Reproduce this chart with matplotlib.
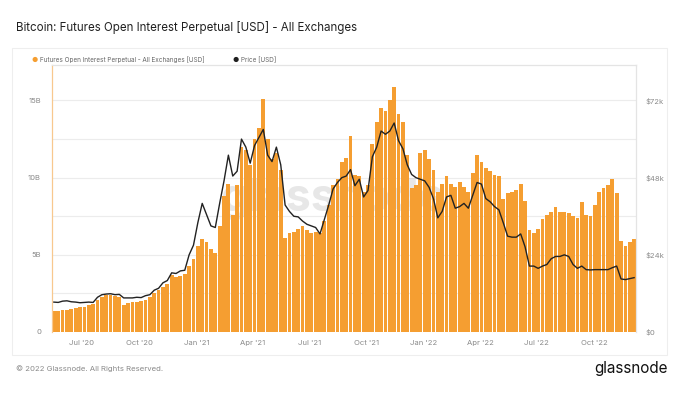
import matplotlib.pyplot as plt
import matplotlib.dates as mdates
import pandas as pd

plt.rcParams["font.family"] = ["Inter", "DejaVu Sans"]

ORANGE = "#F59E31"
GREY_TXT = "#8a8a8a"
GRID = "#ececec"

# weekly samples, 17 May 2020 .. 4 Dec 2022
dates = pd.date_range("2020-05-17", periods=134, freq="7D")

# Futures open interest, perpetual, all exchanges (billions USD)
oi_bn = [
    1.33, 1.36, 1.40, 1.44, 1.50, 1.55, 1.59, 1.65, 1.72, 1.83,
    2.10, 2.30, 2.38, 2.40, 2.35, 2.30, 1.76, 1.85, 1.92, 1.95,
    1.98, 2.05, 2.30, 2.55, 2.75, 2.90, 3.10, 3.70, 3.55, 3.60,
    3.75, 4.30, 4.70, 5.60, 6.00, 5.80, 5.40, 5.10, 6.90, 8.80,
    9.60, 7.60, 9.50, 12.0, 11.8, 10.8, 12.5, 13.2, 15.1, 12.5,
    11.2, 11.6, 10.5, 6.10, 6.40, 6.50, 6.70, 6.90, 6.60, 6.40,
    6.50, 6.40, 7.20, 8.20, 9.50, 9.90, 11.0, 11.3, 12.7, 10.2,
    10.1, 9.10, 9.50, 12.2, 13.6, 14.5, 14.3, 15.0, 15.9, 14.1,
    13.6, 11.5, 9.30, 9.50, 11.6, 11.8, 11.2, 10.5, 9.10, 9.60,
    10.1, 9.60, 9.40, 9.70, 9.40, 9.10, 10.3, 11.5, 11.0, 10.6,
    10.4, 10.2, 10.1, 8.60, 9.00, 9.10, 9.20, 9.60, 8.50, 6.60,
    6.40, 6.70, 7.30, 7.60, 7.80, 8.10, 7.80, 7.80, 7.70, 7.50,
    7.40, 8.40, 7.60, 7.50, 8.20, 9.10, 9.30, 9.50, 9.90, 9.00,
    5.90, 5.60, 5.80, 6.00,
]

# BTC price (thousands USD)
price_k = [
    9.3, 9.2, 9.6, 9.7, 9.4, 9.3, 9.1, 9.2, 9.3, 9.2,
    10.8, 11.6, 11.8, 11.9, 11.6, 11.7, 10.6, 10.6, 10.6, 10.8,
    10.7, 11.3, 11.6, 13.0, 13.6, 15.3, 16.0, 18.4, 18.2, 19.0,
    19.2, 24.0, 27.0, 34.0, 40.0, 36.5, 33.0, 32.5, 40.0, 47.0,
    55.0, 48.5, 50.0, 60.0, 57.5, 52.5, 58.0, 60.5, 63.0, 55.0,
    53.0, 57.5, 52.0, 39.5, 37.5, 36.0, 35.8, 34.5, 33.5, 33.0,
    32.5, 30.5, 35.0, 39.5, 44.5, 46.5, 48.0, 48.5, 50.5, 45.5,
    47.5, 42.0, 44.0, 54.5, 57.5, 62.5, 61.5, 62.5, 65.0, 59.5,
    57.0, 52.0, 49.0, 48.0, 47.5, 47.0, 45.0, 41.5, 35.5, 37.5,
    42.0, 42.5, 38.5, 39.0, 40.0, 38.5, 42.5, 46.5, 46.0, 41.5,
    40.5, 39.0, 38.0, 34.0, 29.8, 29.5, 29.5, 30.5, 26.5, 20.5,
    20.5, 19.8, 20.5, 21.0, 22.8, 23.5, 23.5, 24.0, 23.5, 21.0,
    19.8, 20.5, 19.4, 19.3, 19.4, 19.4, 19.4, 19.4, 20.0, 20.5,
    16.5, 16.3, 16.6, 16.9,
]

fig = plt.figure(figsize=(6.83, 3.96), dpi=100)
fig.patch.set_facecolor("white")

# card behind the chart
card = plt.Rectangle((12 / 683, 1 - 355 / 396), 655 / 683, 307 / 396,
                     transform=fig.transFigure, facecolor="white",
                     edgecolor="#eeeeee", linewidth=0.8, zorder=-5)
fig.patches.append(card)

ax = fig.add_axes([52 / 683, 1 - 332 / 396, 584 / 683, 267 / 396])
ax2 = ax.twinx()

ax.bar(dates, oi_bn, width=6.1, color=ORANGE, linewidth=0, align="center", zorder=2)
ax2.plot(dates, price_k, color="#222222", linewidth=1.0, zorder=3)

ax.set_xlim(pd.Timestamp("2020-05-14"), pd.Timestamp("2022-12-07"))
ax.set_ylim(0, 17.3)
ax2.set_ylim(0, 17.3 * 4.8)

ax.set_yticks([0, 2.5, 5, 7.5, 10, 12.5, 15])
ax.set_yticklabels(["0", "", "5B", "", "10B", "", "15B"])
ax2.set_yticks([0, 24, 48, 72])
ax2.set_yticklabels(["$0", "$24k", "$48k", "$72k"])

ax.xaxis.set_major_locator(mdates.MonthLocator(bymonth=[1, 4, 7, 10]))
ax.xaxis.set_major_formatter(mdates.DateFormatter("%b '%y"))

ax.grid(axis="y", color=GRID, linewidth=0.8, zorder=0)
ax.set_axisbelow(True)
for a in (ax, ax2):
    a.tick_params(length=0, labelsize=5.5, labelcolor=GREY_TXT)
    for s in a.spines.values():
        s.set_color("#e4e4e4")
        s.set_linewidth(0.8)
ax.spines["left"].set_color("#f8c88e")
ax2.spines["left"].set_color("#f8c88e")
ax.spines["bottom"].set_visible(False)
ax2.spines["bottom"].set_visible(False)
ax.tick_params(axis="y", pad=8)
ax.tick_params(axis="x", pad=6)
ax2.tick_params(axis="y", pad=7)

# watermark
ax.text(0.48, 0.5, "glassnode", transform=ax.transAxes, ha="center", va="center",
        fontsize=32, color="#b0b0b0", alpha=0.3, fontweight="bold", zorder=1)

fig.text(16 / 683, 1 - 27 / 396, "Bitcoin: Futures Open Interest Perpetual [USD] - All Exchanges",
         fontsize=8.3, color="#222222", va="center", ha="left")

# legend
fig.text(35 / 683, 1 - 60 / 396, "\u25cf", color=ORANGE, fontsize=5, va="center", ha="center")
fig.text(40 / 683, 1 - 60 / 396, "Futures Open Interest Perpetual - All Exchanges [USD]",
         fontsize=4.6, color="#666666", va="center", ha="left")
fig.text(236 / 683, 1 - 60 / 396, "\u25cf", color="#1f1f1f", fontsize=5, va="center", ha="center")
fig.text(241 / 683, 1 - 60 / 396, "Price [USD]", fontsize=4.6, color="#666666", va="center", ha="left")

fig.text(16 / 683, 1 - 369 / 396, "\u00a9 2022 Glassnode. All Rights Reserved.",
         fontsize=5.6, color=GREY_TXT, va="center", ha="left")
fig.text(668 / 683, 1 - 369 / 396, "glassnode", fontsize=11, color="#111111",
         va="center", ha="right")

fig.savefig("out.png", dpi=100)
